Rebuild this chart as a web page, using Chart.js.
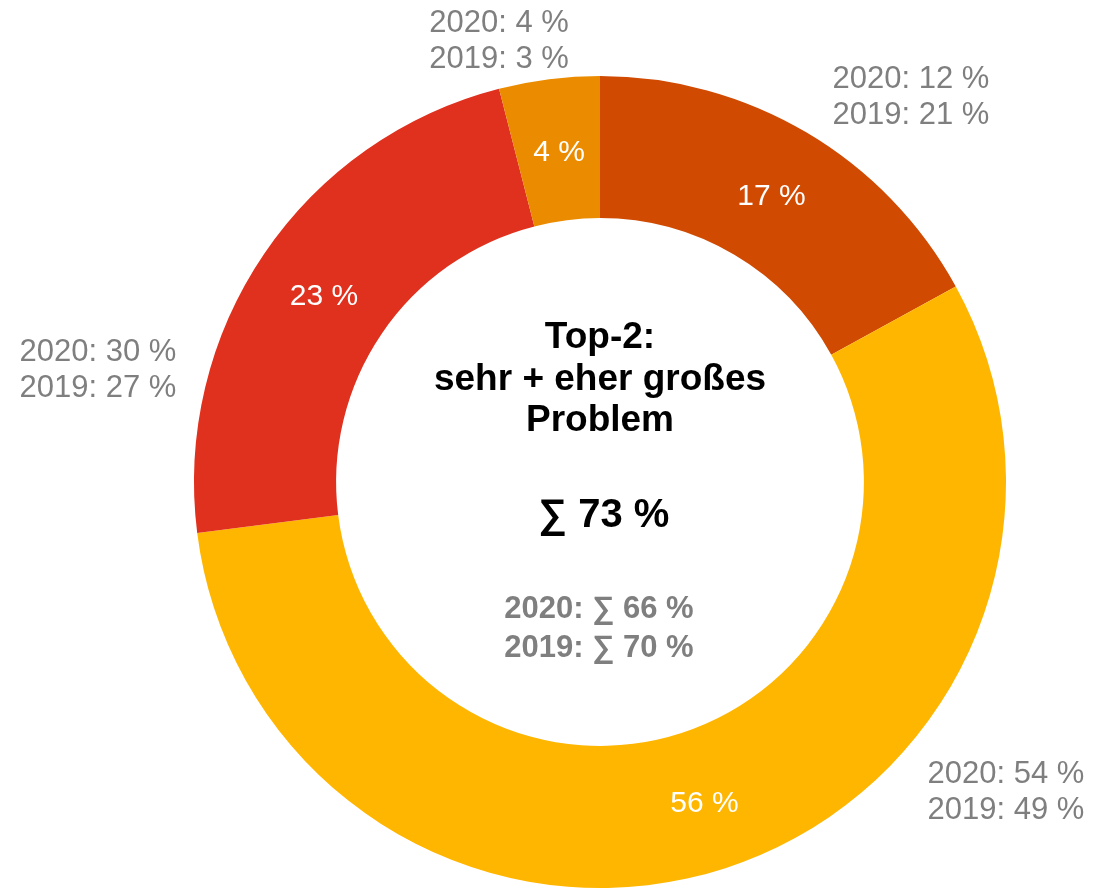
<!DOCTYPE html>
<html lang="de">
<head>
<meta charset="utf-8">
<title>Top-2: sehr + eher großes Problem</title>
<script src="https://cdn.jsdelivr.net/npm/chart.js@4/dist/chart.umd.min.js"></script>
<style>
  html, body { margin: 0; padding: 0; background: #ffffff; }
  #wrap { width: 1102px; height: 890px; position: relative; }
</style>
</head>
<body>
<div id="wrap"><canvas id="chart"></canvas></div>
<script>
// Anteile 2021 (im Uhrzeigersinn ab 12 Uhr)
const categories = ['sehr großes Problem', 'eher kleines Problem', 'eher großes Problem', 'gar kein Problem'];
const values2021 = [17, 56, 23, 4];
const values2020 = [12, 54, 30, 4];
const values2019 = [21, 49, 27, 3];
const colors = ['#D04A02', '#FFB600', '#E0301E', '#EB8C00'];

// Summen Top-2
const top2Now = 73;
const top2_2020 = 66;
const top2_2019 = 70;

const centerLines = ['Top-2:', 'sehr + eher großes', 'Problem'];

// Lage der Vorjahres-Beschriftungen relativ zur Kreismitte (px, Grundlinie der ersten Zeile)
const priorOffsets = [
  { dx: 311, dy: -394 },
  { dx: 406, dy: 301 },
  { dx: -502, dy: -121 },
  { dx: -101, dy: -450 }
];

const FONT = '"Liberation Sans", Arial, Helvetica, sans-serif';
const GREY = '#7F7F7F';

const labelPlugin = {
  id: 'donutLabels',
  afterDatasetsDraw(chart) {
    const ctx = chart.ctx;
    const meta = chart.getDatasetMeta(0);
    const first = meta.data[0];
    const cx = first.x, cy = first.y;

    ctx.save();
    ctx.textAlign = 'center';
    ctx.textBaseline = 'middle';

    // Werte in den Segmenten
    ctx.fillStyle = '#ffffff';
    ctx.font = '30px ' + FONT;
    meta.data.forEach((arc, i) => {
      const p = arc.getCenterPoint();
      ctx.fillText(values2021[i] + ' %', p.x + 1, p.y + 3);
    });

    // Vergleichswerte 2020 / 2019 außerhalb des Rings
    ctx.textBaseline = 'alphabetic';
    ctx.fillStyle = GREY;
    ctx.font = '31px ' + FONT;
    priorOffsets.forEach((o, i) => {
      ctx.fillText('2020: ' + values2020[i] + ' %', cx + o.dx, cy + o.dy);
      ctx.fillText('2019: ' + values2019[i] + ' %', cx + o.dx, cy + o.dy + 36);
    });

    // Text in der Mitte
    ctx.fillStyle = '#000000';
    ctx.font = 'bold 37px ' + FONT;
    const lineY = [-134, -92.5, -51];
    centerLines.forEach((t, i) => ctx.fillText(t, cx, cy + lineY[i]));

    ctx.font = 'bold 40px ' + FONT;
    ctx.fillText('∑ ' + top2Now + ' %', cx + 4, cy + 45);

    ctx.fillStyle = GREY;
    ctx.font = 'bold 31px ' + FONT;
    ctx.fillText('2020: ∑ ' + top2_2020 + ' %', cx - 1, cy + 136);
    ctx.fillText('2019: ∑ ' + top2_2019 + ' %', cx - 1, cy + 175);

    ctx.restore();
  }
};

new Chart(document.getElementById('chart'), {
  type: 'doughnut',
  data: {
    labels: categories,
    datasets: [{
      data: values2021,
      backgroundColor: colors,
      borderWidth: 0,
      hoverOffset: 0
    }]
  },
  options: {
    responsive: true,
    maintainAspectRatio: false,
    animation: false,
    cutout: '65%',
    layout: { padding: { left: 194, right: 96, top: 76, bottom: 2 } },
    plugins: {
      legend: { display: false },
      tooltip: { enabled: false }
    }
  },
  plugins: [labelPlugin]
});
</script>
</body>
</html>
